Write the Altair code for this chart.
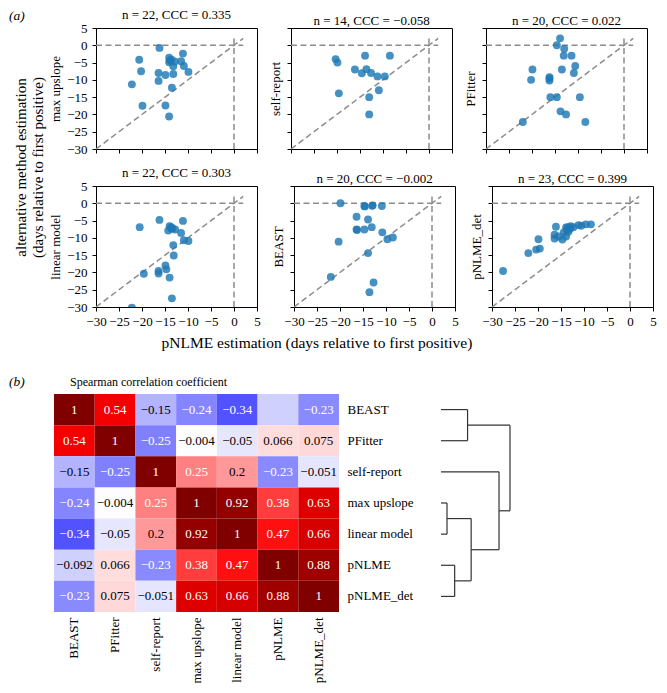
import altair as alt
import pandas as pd

FONT = "Liberation Serif"

# ---------------- (a) scatter data: x = pNLME estimate, y = alternative method ----------------
upslope_x = [-16.2, -20.6, -20.2, -22.2, -19.9, -16.4, -16.4, -14.9, -14.9, -14.1, -13.5,
             -14.1, -13.9, -14.1, -13.2, -13.2, -12.9, -11.5, -11.1, -10.9, -9.9, -13.6]
upslope_y = [-0.75, -4.2, -7.5, -11.3, -17.5, -8.0, -10.3, -8.6, -17.4, -20.6, -12.3,
             -3.6, -4.4, -4.9, -6.1, -8.3, -4.7, -4.6, -2.4, -6.0, -7.7, -4.2]

selfrep_x = [-20.3, -19.9, -19.6, -16.1, -13.9, -14.6, -13.6, -12.6, -11.2, -9.6, -8.5,
             -10.9, -13.0, -13.0]
selfrep_y = [-4.0, -5.0, -13.9, -7.0, -3.0, -8.1, -6.9, -8.0, -9.0, -9.0, -3.0,
             -13.0, -15.0, -20.0]

pfitter_x = [-13.9, -14.6, -13.0, -13.1, -11.4, -10.6, -10.9, -13.5, -19.9, -20.2,
             -16.2, -16.2, -16.0, -14.6, -9.6, -13.8, -12.6, -22.0, -8.4, -16.2]
pfitter_y = [2.0, 0.0, -1.0, -3.0, -3.0, -6.0, -8.0, -7.0, -7.0, -10.0,
             -9.2, -10.2, -15.0, -15.0, -15.0, -19.1, -20.0, -22.2, -22.2, -9.6]

linear_x = [-20.5, -16.2, -19.6, -22.2, -16.4, -16.4, -14.9, -14.7, -14.0, -13.5, -13.1,
            -13.2, -14.0, -13.6, -14.3, -12.8, -11.5, -11.1, -10.9, -9.9, -13.7, -13.4]
linear_y = [-6.9, -4.8, -20.4, -30.2, -19.6, -20.3, -18.0, -19.1, -21.5, -27.5, -15.1,
            -12.1, -6.6, -7.4, -7.9, -7.6, -8.6, -5.1, -10.7, -10.9, -6.9, -7.2]

beast_x = [-19.9, -14.7, -12.9, -10.9, -16.4, -13.9, -16.4, -14.7, -13.1, -10.8,
           -9.7, -8.5, -20.3, -13.9, -22.0, -12.7, -13.6, -14.6, -13.0, -16.3]
beast_y = [0.0, -0.8, -0.6, -0.8, -3.9, -4.7, -7.6, -7.6, -6.9, -8.4,
           -10.4, -9.9, -11.1, -14.4, -21.3, -22.9, -25.7, -0.9, -0.7, -7.7]

pnlmedet_x = [-27.6, -22.1, -20.4, -19.6, -19.9, -16.4, -16.4, -16.1, -14.7, -13.9, -13.4,
              -13.9, -13.5, -13.0, -12.3, -11.2, -10.6, -9.6, -8.5, -14.4, -15.5, -13.7, -12.9]
pnlmedet_y = [-19.6, -14.4, -13.4, -13.1, -10.4, -9.1, -10.2, -6.8, -10.5, -9.6, -8.2,
              -7.0, -6.9, -7.4, -6.9, -6.3, -6.5, -6.1, -6.1, -8.4, -9.6, -7.7, -6.6]

panel_names = ["max upslope", "self-report", "PFitter", "linear model", "BEAST", "pNLME_det"]
panel_titles = ["n = 22, CCC = 0.335", "n = 14, CCC = \u22120.058", "n = 20, CCC = 0.022",
                "n = 22, CCC = 0.303", "n = 20, CCC = \u22120.002", "n = 23, CCC = 0.399"]
panel_x = [upslope_x, selfrep_x, pfitter_x, linear_x, beast_x, pnlmedet_x]
panel_y = [upslope_y, selfrep_y, pfitter_y, linear_y, beast_y, pnlmedet_y]

axis_ticks = [-30, -25, -20, -15, -10, -5, 0, 5]
axis_domain = [-30, 5]
ref_lo, ref_hi = -30, 2

y_title_lines = ["alternative method estimation", "(days relative to first positive)"]
x_title = "pNLME estimation (days relative to first positive)"

# ---------------- (b) Spearman correlation matrix ----------------
methods = ["BEAST", "PFitter", "self-report", "max upslope", "linear model", "pNLME", "pNLME_det"]
corr = [
    [1, 0.54, -0.15, -0.24, -0.34, -0.092, -0.23],
    [0.54, 1, -0.25, -0.004, -0.05, 0.066, 0.075],
    [-0.15, -0.25, 1, 0.25, 0.2, -0.23, -0.051],
    [-0.24, -0.004, 0.25, 1, 0.92, 0.38, 0.63],
    [-0.34, -0.05, 0.2, 0.92, 1, 0.47, 0.66],
    [-0.092, 0.066, -0.23, 0.38, 0.47, 1, 0.88],
    [-0.23, 0.075, -0.051, 0.63, 0.66, 0.88, 1],
]
hidden_labels = [("BEAST", "pNLME")]

# dendrogram linkage (left child, right child, merge height); leaves 0..6 in `methods` order
dendro_merges = [(0, 1, 0.385), (3, 4, 0.087), (5, 6, 0.198),
                 (8, 9, 0.437), (2, 10, 0.841), (7, 11, 1.0)]

# ---------------- sizes ----------------
PW, PH, GAP = 161, 121, 37
HM_W, HM_H = 285, 218
NOSTROKE = alt.ViewBackground(stroke="transparent")

# ---------------- build scatter panels ----------------
ref_df = pd.DataFrame({
    "x1": [ref_lo, 0, ref_lo], "x2": [ref_hi, 0, ref_hi],
    "y1": [0, ref_lo, ref_lo], "y2": [0, ref_hi, ref_hi],
})

def make_panel(i):
    col, row = i % 3, i // 3
    scale = alt.Scale(domain=axis_domain, nice=False, zero=False)
    xaxis = alt.Axis(values=axis_ticks, labels=(row == 1), title=None, grid=False,
                     tickSize=4, labelPadding=4, labelFontSize=13, labelColor="black",
                     domainColor="black", tickColor="black", labelFlush=False)
    yaxis = alt.Axis(values=axis_ticks, labels=(col == 0), title=panel_names[i], grid=False,
                     tickSize=4, labelPadding=5, labelFontSize=13, labelColor="black",
                     titleFontSize=13, titleFontWeight="normal", titleColor="black",
                     titlePadding=4, domainColor="black", tickColor="black", labelFlush=False)
    df = pd.DataFrame({"x": panel_x[i], "y": panel_y[i]})
    refs = alt.Chart(ref_df).mark_rule(color="#8c8c8c", strokeWidth=1.5, strokeDash=[6, 3.5]).encode(
        x=alt.X("x1:Q", scale=scale, axis=xaxis), x2="x2:Q",
        y=alt.Y("y1:Q", scale=scale, axis=yaxis), y2="y2:Q")
    pts = alt.Chart(df).mark_circle(size=62, color="#1f77b4", opacity=0.82, clip=True).encode(
        x=alt.X("x:Q", scale=scale, axis=xaxis),
        y=alt.Y("y:Q", scale=scale, axis=yaxis))
    return alt.layer(refs, pts).properties(
        width=PW, height=PH,
        title=alt.TitleParams(panel_titles[i], fontSize=13, fontWeight="normal", offset=0, color="black"))

row1 = alt.hconcat(*[make_panel(i) for i in range(3)], spacing=11)
row2 = alt.hconcat(*[make_panel(i) for i in range(3, 6)], spacing=11,
                   title=alt.TitleParams(x_title, orient="bottom", anchor="middle", dx=-36, offset=7,
                                         fontSize=15.5, fontWeight="normal", color="black"))
grid = alt.vconcat(row1, row2, spacing=9)

# left label column: "(a)" and the shared y title (two single-line texts)
lab_a = alt.Chart(pd.DataFrame({"t": ["(a)"]})).mark_text(
    align="left", baseline="middle", fontSize=13.5, fontStyle="italic", color="black").encode(
    text="t:N", x=alt.value(0), y=alt.value(-12))
ytxt1 = alt.Chart(pd.DataFrame({"t": [y_title_lines[0]]})).mark_text(
    angle=270, align="center", baseline="middle", fontSize=15, color="black").encode(
    text="t:N", x=alt.value(11.5), y=alt.value((2 * PH + GAP) / 2))
ytxt2 = alt.Chart(pd.DataFrame({"t": [y_title_lines[1]]})).mark_text(
    angle=270, align="center", baseline="middle", fontSize=15, color="black").encode(
    text="t:N", x=alt.value(28.5), y=alt.value((2 * PH + GAP) / 2))
left_col = alt.layer(lab_a, ytxt1, ytxt2).properties(width=37, height=2 * PH + GAP, view=NOSTROKE)

top = alt.hconcat(left_col, grid, spacing=2)

# ---------------- heatmap ----------------
rows = []
for r, rname in enumerate(methods):
    for c, cname in enumerate(methods):
        v = corr[r][c]
        lab = "" if (rname, cname) in hidden_labels else f"{v:g}".replace("-", "\u2212")
        rows.append({"row": rname, "col": cname, "v": v, "label": lab})
hm_df = pd.DataFrame(rows)

color_scale = alt.Scale(domain=[-1, -0.5, 0, 0.5, 1],
                        range=["#00004d", "#0000ff", "#ffffff", "#ff0000", "#800000"],
                        interpolate="rgb")
hx = alt.X("col:N", sort=methods, title=None,
           axis=alt.Axis(labelAngle=270, ticks=False, domain=False, labelPadding=5,
                         labelFontSize=13, labelColor="black"))
hy = alt.Y("row:N", sort=methods, title=None,
           axis=alt.Axis(orient="right", ticks=False, domain=False, labelPadding=8,
                         labelFontSize=13, labelColor="black"))
hm_rect = alt.Chart(hm_df).mark_rect().encode(
    x=hx, y=hy, color=alt.Color("v:Q", scale=color_scale, legend=None))
hm_text = alt.Chart(hm_df).mark_text(fontSize=13).encode(
    x=hx, y=hy, text="label:N",
    color=alt.condition("datum.v > 0.22 || datum.v < -0.2", alt.value("white"), alt.value("black")))
heatmap = alt.layer(hm_rect, hm_text).properties(
    width=HM_W, height=HM_H, view=NOSTROKE,
    title=alt.TitleParams("Spearman correlation coefficient", anchor="start", frame="bounds",
                          dx=16, offset=5, fontSize=12, fontWeight="normal", color="black"))

# ---------------- dendrogram (computed from the linkage) ----------------
pos = {i: float(i) for i in range(len(methods))}
hgt = {i: 0.0 for i in range(len(methods))}
segs = []
for k, (a, b, h) in enumerate(dendro_merges):
    nid = len(methods) + k
    segs.append({"x1": hgt[a], "x2": h, "y1": pos[a], "y2": pos[a]})
    segs.append({"x1": hgt[b], "x2": h, "y1": pos[b], "y2": pos[b]})
    segs.append({"x1": h, "x2": h, "y1": pos[a], "y2": pos[b]})
    pos[nid] = (pos[a] + pos[b]) / 2
    hgt[nid] = h
dendro_df = pd.DataFrame(segs)
root_h = max(m[2] for m in dendro_merges)
dendro = alt.Chart(dendro_df).mark_rule(color="#333333", strokeWidth=1.2).encode(
    x=alt.X("x1:Q", scale=alt.Scale(domain=[0, root_h], nice=False, zero=False), axis=None),
    x2="x2:Q",
    y=alt.Y("y1:Q", scale=alt.Scale(domain=[-0.5, len(methods) - 0.5], reverse=True, nice=False, zero=False),
            axis=None),
    y2="y2:Q").properties(width=69, height=HM_H, view=NOSTROKE)

lab_b = alt.Chart(pd.DataFrame({"t": ["(b)"]})).mark_text(
    align="left", baseline="middle", fontSize=13.5, fontStyle="italic", color="black").encode(
    text="t:N", x=alt.value(0), y=alt.value(-12)).properties(width=20, height=HM_H, view=NOSTROKE)

bottom = alt.hconcat(lab_b, alt.hconcat(heatmap, dendro, spacing=25), spacing=23)

chart = alt.vconcat(top, bottom, spacing=23).properties(
    padding={"left": 0, "top": 0, "right": 0, "bottom": 0}
).configure(font=FONT).configure_view(stroke="black", strokeWidth=1)

chart.save("out.html", embed_options={"renderer": "svg", "actions": False})
